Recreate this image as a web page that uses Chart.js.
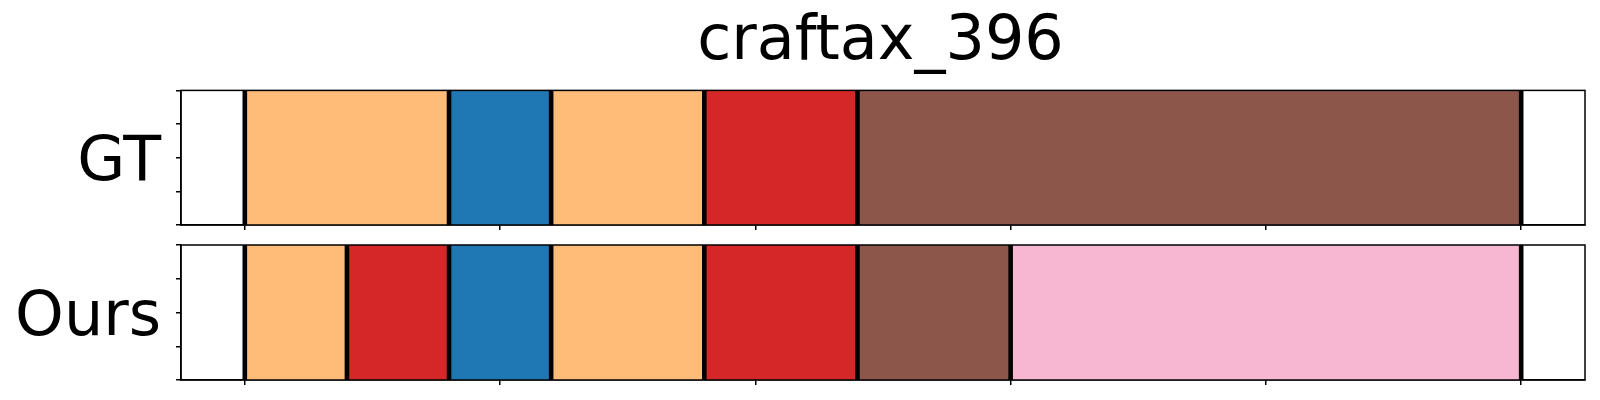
<!DOCTYPE html>
<html>
<head>
<meta charset="utf-8">
<script src="https://cdn.jsdelivr.net/npm/chart.js@4.4.1/dist/chart.umd.min.js"></script>
<style>
  body { margin: 0; background: #fff; }
  .panel { position: absolute; left: 0; width: 1600px; }
</style>
</head>
<body>
<div class="panel" style="top:0;height:235px"><canvas id="gtChart"></canvas></div>
<div class="panel" style="top:235px;height:165px"><canvas id="oursChart"></canvas></div>
<script>
// segment data (timesteps) and class ids
const chartTitle = 'craftax_396';
const rowLabels = ['GT', 'Ours'];
const xTicks = [0, 100, 200, 300, 400, 500];

const gtStarts = [0, 80, 120, 180, 240];
const gtEnds = [80, 120, 180, 240, 500];
const gtClasses = [3, 0, 3, 6, 10];

const oursStarts = [0, 40, 80, 120, 180, 240, 300];
const oursEnds = [40, 80, 120, 180, 240, 300, 500];
const oursClasses = [3, 6, 0, 3, 6, 10, 13];

// tab20 colours
const palette = ['#1f77b4', '#aec7e8', '#ff7f0e', '#ffbb78', '#2ca02c', '#98df8a', '#d62728', '#ff9896',
  '#9467bd', '#c5b0d5', '#8c564b', '#c49c94', '#e377c2', '#f7b6d2', '#7f7f7f', '#c7c7c7',
  '#bcbd22', '#dbdb8d', '#17becf', '#9edae5'];

const FONT = 'DejaVu Sans';

function buildDatasets(starts, ends, classes) {
  const ds = [];
  // boundary lines
  const bounds = [...new Set(starts.concat(ends))];
  bounds.forEach(b => {
    ds.push({
      data: [{x: b, y: 0}, {x: b, y: 1}],
      showLine: true, borderColor: '#000', borderWidth: 4.6, pointRadius: 0, fill: false, order: 0
    });
  });
  starts.forEach((s, i) => {
    ds.push({
      data: [{x: s, y: 1}, {x: ends[i], y: 1}],
      showLine: true, borderWidth: 0, borderColor: 'rgba(0,0,0,0)', pointRadius: 0,
      fill: 'origin', backgroundColor: palette[classes[i]], order: 1
    });
  });
  return ds;
}

const frame = {
  id: 'frame',
  afterDraw(chart, args, opts) {
    const a = chart.chartArea, ctx = chart.ctx;
    ctx.save();
    ctx.strokeStyle = '#000';
    ctx.lineWidth = 1.5;
    ctx.strokeRect(a.left, a.top, a.right - a.left, a.bottom - a.top);
    ctx.font = '62px "' + FONT + '"';
    ctx.fillStyle = '#000';
    ctx.textAlign = 'right';
    ctx.textBaseline = 'alphabetic';
    ctx.fillText(opts.label, 161, (a.top + a.bottom) / 2 + 22);
    ctx.restore();
  }
};

function makeChart(id, starts, ends, classes, label, padding, showTitle) {
  return new Chart(document.getElementById(id), {
    type: 'scatter',
    data: { datasets: buildDatasets(starts, ends, classes) },
    plugins: [frame],
    options: {
      responsive: true,
      maintainAspectRatio: false,
      animation: false,
      layout: { padding: padding },
      plugins: {
        legend: { display: false },
        tooltip: { enabled: false },
        frame: { label: label },
        title: {
          display: showTitle,
          text: chartTitle,
          color: '#000',
          font: { family: FONT, size: 62, weight: 'normal' },
          padding: { top: 6, bottom: 10 }
        }
      },
      scales: {
        x: {
          type: 'linear',
          min: -25, max: 525,
          afterBuildTicks: axis => { axis.ticks = xTicks.map(v => ({ value: v })); },
          ticks: { display: false },
          grid: { drawOnChartArea: false, drawTicks: true, tickLength: 5, color: '#000', lineWidth: 1.5 },
          border: { color: '#000', width: 1.5 }
        },
        y: {
          min: 0, max: 1,
          afterBuildTicks: axis => { axis.ticks = [0, 0.25, 0.5, 0.75, 1].map(v => ({ value: v })); },
          ticks: { display: false },
          grid: { drawOnChartArea: false, drawTicks: true, tickLength: 5, color: '#000', lineWidth: 1.5 },
          border: { color: '#000', width: 1.5 }
        }
      }
    }
  });
}

makeChart('gtChart', gtStarts, gtEnds, gtClasses, rowLabels[0], { left: 176, right: 15, top: 0, bottom: 5 }, true);
makeChart('oursChart', oursStarts, oursEnds, oursClasses, rowLabels[1], { left: 176, right: 15, top: 10, bottom: 15 }, false);
</script>
</body>
</html>
